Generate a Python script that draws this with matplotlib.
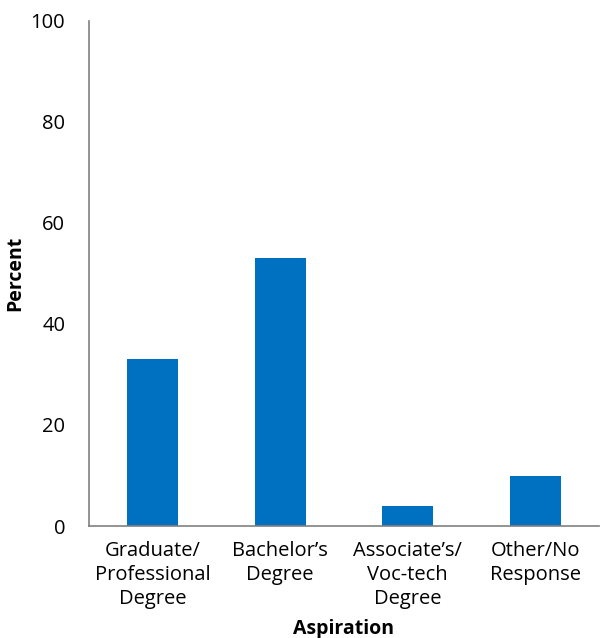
import matplotlib.pyplot as plt

# data
categories = ["Graduate/\nProfessional\nDegree", "Bachelor’s\nDegree",
              "Associate’s/\nVoc-tech\nDegree", "Other/No\nResponse"]
percent = [33, 53, 4, 10]
y_ticks = [0, 20, 40, 60, 80, 100]

plt.rcParams["font.family"] = ["Open Sans", "DejaVu Sans"]

fig = plt.figure(figsize=(6, 6.38), dpi=100)
ax = fig.add_axes([0.148, 0.1755, 0.85, 0.792])

ax.bar(range(len(categories)), percent, width=0.4, color="#0070C0")

ax.set_xlim(-0.5, len(categories) - 0.5)
ax.set_ylim(0, 100)
ax.set_yticks(y_ticks)
ax.set_xticks(range(len(categories)))
ax.set_xticklabels(categories, fontsize=14.5, linespacing=1.25)
ax.tick_params(axis="y", labelsize=14.5, length=0, pad=17)
ax.tick_params(axis="x", length=0, pad=11)

for s in ["top", "right"]:
    ax.spines[s].set_visible(False)
for s in ["left", "bottom"]:
    ax.spines[s].set_color("#808080")
    ax.spines[s].set_linewidth(1.2)

ax.set_ylabel("Percent", fontsize=14, fontweight="bold")
ax.set_xlabel("Aspiration", fontsize=14, fontweight="bold")
ax.yaxis.set_label_coords(-0.124, 0.5)
ax.xaxis.set_label_coords(0.5, -0.184)

fig.savefig("out.png", dpi=100)
